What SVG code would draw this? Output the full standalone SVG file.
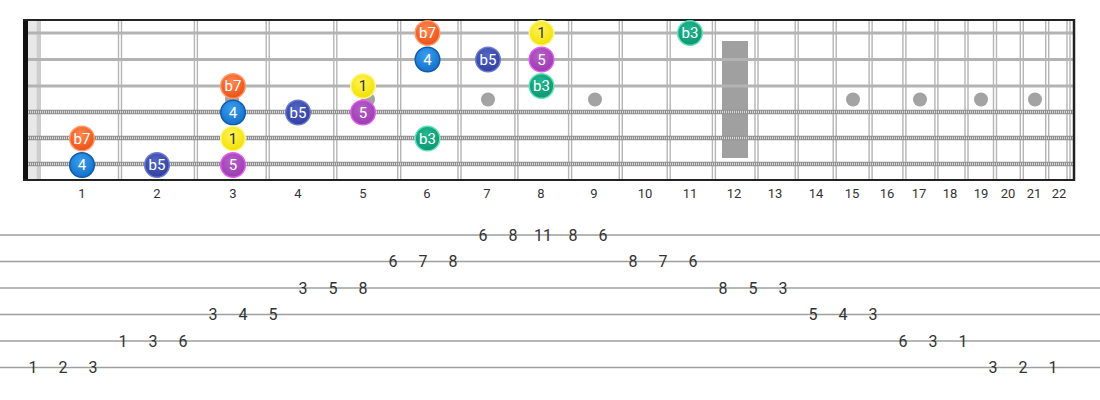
<svg xmlns="http://www.w3.org/2000/svg" width="1100" height="400" viewBox="0 0 1100 400">
<defs>
<radialGradient id="gO" cx="45%" cy="35%" r="65%"><stop offset="0" stop-color="#ff8a50"/><stop offset="1" stop-color="#ea4f17"/></radialGradient>
<radialGradient id="gB" cx="45%" cy="35%" r="65%"><stop offset="0" stop-color="#3aa0f0"/><stop offset="1" stop-color="#1470c8"/></radialGradient>
<radialGradient id="gI" cx="45%" cy="35%" r="65%"><stop offset="0" stop-color="#5567c4"/><stop offset="1" stop-color="#2f3fa2"/></radialGradient>
<radialGradient id="gY" cx="45%" cy="35%" r="65%"><stop offset="0" stop-color="#fff35a"/><stop offset="1" stop-color="#f2e000"/></radialGradient>
<radialGradient id="gP" cx="45%" cy="35%" r="65%"><stop offset="0" stop-color="#b860c8"/><stop offset="1" stop-color="#9a3cb0"/></radialGradient>
<radialGradient id="gG" cx="45%" cy="35%" r="65%"><stop offset="0" stop-color="#22b892"/><stop offset="1" stop-color="#0c9670"/></radialGradient>
</defs>
<style>
.fret{stroke:#b5b5b5;stroke-width:1.4;fill:none}
.plain{stroke:#b3b3b3;stroke-width:3}
.wound{stroke:#8e8e8e;stroke-width:4.5}
.woundx{stroke:#f2f2f2;stroke-width:2.5;stroke-dasharray:1 1;opacity:.75}
.dot{fill:#a3a3a3}
.note circle{stroke-width:1.5}
.note text{font-family:Roboto,"Liberation Sans",sans-serif;font-size:15px;fill:#fff;text-anchor:middle}
.o circle{fill:url(#gO);stroke:#ff9a6a}
.b circle{fill:url(#gB);stroke:#0e5cae}
.i circle{fill:url(#gI);stroke:#6a7bd0}
.y circle{fill:url(#gY);stroke:#fff69a}
.y text{fill:#333}
.p circle{fill:url(#gP);stroke:#e35cf2}
.g circle{fill:url(#gG);stroke:#5fe2b8}
.fn{font-family:Roboto,"Liberation Sans",sans-serif;font-size:13px;fill:#333;text-anchor:middle}
.tl{stroke:#9e9e9e;stroke-width:1.5}
.tn{font-family:Roboto,"Liberation Sans",sans-serif;font-size:16px;fill:#333;text-anchor:middle}
</style>
<rect width="1100" height="400" fill="#fff"/>
<g id="fretboard">
<rect x="28" y="20" width="8.5" height="160" fill="#e8e8e8"/>
<rect x="36.5" y="20" width="4.5" height="160" fill="#cdcdcd"/>
<path class="fret" d="M118.5 20V180M121.5 20V180M194.4 20V180M197.4 20V180M266.2 20V180M269.2 20V180M333.8 20V180M336.8 20V180M397.7 20V180M400.7 20V180M458 20V180M461 20V180M514.9 20V180M517.9 20V180M568.6 20V180M571.6 20V180M619.3 20V180M622.3 20V180M667.2 20V180M670.2 20V180M712.4 20V180M715.4 20V180M755 20V180M758 20V180M795.2 20V180M798.2 20V180M833.2 20V180M836.2 20V180M869.1 20V180M872.1 20V180M902.9 20V180M905.9 20V180M934.9 20V180M937.9 20V180M965 20V180M968 20V180M993.5 20V180M996.5 20V180M1020.3 20V180M1023.3 20V180M1045.7 20V180M1048.7 20V180M1067 20V180M1070 20V180"/>
<g id="inlays">
<circle class="dot" cx="232" cy="99.5" r="7"/>
<circle class="dot" cx="368" cy="99.5" r="7"/>
<circle class="dot" cx="488" cy="99.5" r="7"/>
<circle class="dot" cx="595" cy="99.5" r="7"/>
<rect x="722" y="41" width="26" height="117" fill="#a0a0a0"/>
<circle class="dot" cx="853" cy="99.5" r="7"/>
<circle class="dot" cx="920" cy="99.5" r="7"/>
<circle class="dot" cx="981" cy="99.5" r="7"/>
<circle class="dot" cx="1035" cy="99.5" r="7"/>
</g>
<g id="strings">
<line class="plain" x1="23" y1="33" x2="1073" y2="33"/>
<line class="plain" x1="23" y1="59.5" x2="1073" y2="59.5"/>
<line class="plain" x1="23" y1="86" x2="1073" y2="86"/>
<line class="wound" x1="28" y1="112" x2="1073" y2="112"/>
<line class="woundx" x1="28" y1="112" x2="1073" y2="112"/>
<line class="wound" x1="28" y1="138" x2="1073" y2="138"/>
<line class="woundx" x1="28" y1="138" x2="1073" y2="138"/>
<line class="wound" x1="28" y1="164" x2="1073" y2="164"/>
<line class="woundx" x1="28" y1="164" x2="1073" y2="164"/>
</g>
<rect x="23" y="20" width="5" height="160" fill="#111"/>
<line x1="23" y1="20" x2="1075" y2="20" stroke="#222" stroke-width="2"/>
<line x1="23" y1="180" x2="1075" y2="180" stroke="#222" stroke-width="2"/>
<line x1="1074" y1="19" x2="1074" y2="181" stroke="#222" stroke-width="2.5"/>
</g>
<g id="notes">
<g id="n1-6" class="note o"><circle cx="427.5" cy="33" r="12.3"/><text x="427.5" y="38.3">b7</text></g>
<g id="n1-8" class="note y"><circle cx="541.5" cy="33" r="12.3"/><text x="541.5" y="38.3">1</text></g>
<g id="n1-11" class="note g"><circle cx="690" cy="33" r="12.3"/><text x="690" y="38.3">b3</text></g>
<g id="n2-6" class="note b"><circle cx="427.5" cy="59.5" r="12.3"/><text x="427.5" y="64.8">4</text></g>
<g id="n2-7" class="note i"><circle cx="488" cy="59.5" r="12.3"/><text x="488" y="64.8">b5</text></g>
<g id="n2-8" class="note p"><circle cx="541.5" cy="59.5" r="12.3"/><text x="541.5" y="64.8">5</text></g>
<g id="n3-3" class="note o"><circle cx="233" cy="86" r="12.3"/><text x="233" y="91.3">b7</text></g>
<g id="n3-5" class="note y"><circle cx="363" cy="86" r="12.3"/><text x="363" y="91.3">1</text></g>
<g id="n3-8" class="note g"><circle cx="541.5" cy="86" r="12.3"/><text x="541.5" y="91.3">b3</text></g>
<g id="n4-3" class="note b"><circle cx="233" cy="112.5" r="12.3"/><text x="233" y="117.8">4</text></g>
<g id="n4-4" class="note i"><circle cx="298" cy="112.5" r="12.3"/><text x="298" y="117.8">b5</text></g>
<g id="n4-5" class="note p"><circle cx="363" cy="112.5" r="12.3"/><text x="363" y="117.8">5</text></g>
<g id="n5-1" class="note o"><circle cx="82" cy="138.5" r="12.3"/><text x="82" y="143.8">b7</text></g>
<g id="n5-3" class="note y"><circle cx="233" cy="138.5" r="12.3"/><text x="233" y="143.8">1</text></g>
<g id="n5-6" class="note g"><circle cx="427.5" cy="138.5" r="12.3"/><text x="427.5" y="143.8">b3</text></g>
<g id="n6-1" class="note b"><circle cx="82" cy="165" r="12.3"/><text x="82" y="170.3">4</text></g>
<g id="n6-2" class="note i"><circle cx="157" cy="165" r="12.3"/><text x="157" y="170.3">b5</text></g>
<g id="n6-3" class="note p"><circle cx="233" cy="165" r="12.3"/><text x="233" y="170.3">5</text></g>
</g>
<g id="fret-numbers">
<text class="fn" x="82" y="198">1</text>
<text class="fn" x="157" y="198">2</text>
<text class="fn" x="233" y="198">3</text>
<text class="fn" x="298" y="198">4</text>
<text class="fn" x="363" y="198">5</text>
<text class="fn" x="427" y="198">6</text>
<text class="fn" x="487" y="198">7</text>
<text class="fn" x="541" y="198">8</text>
<text class="fn" x="594" y="198">9</text>
<text class="fn" x="645" y="198">10</text>
<text class="fn" x="690" y="198">11</text>
<text class="fn" x="734" y="198">12</text>
<text class="fn" x="775" y="198">13</text>
<text class="fn" x="816" y="198">14</text>
<text class="fn" x="852" y="198">15</text>
<text class="fn" x="887" y="198">16</text>
<text class="fn" x="919" y="198">17</text>
<text class="fn" x="950" y="198">18</text>
<text class="fn" x="981" y="198">19</text>
<text class="fn" x="1008" y="198">20</text>
<text class="fn" x="1034" y="198">21</text>
<text class="fn" x="1059" y="198">22</text>
</g>
<g id="tab">
<line class="tl" x1="0" y1="235" x2="1100" y2="235"/>
<line class="tl" x1="0" y1="261.5" x2="1100" y2="261.5"/>
<line class="tl" x1="0" y1="288" x2="1100" y2="288"/>
<line class="tl" x1="0" y1="314.5" x2="1100" y2="314.5"/>
<line class="tl" x1="0" y1="341" x2="1100" y2="341"/>
<line class="tl" x1="0" y1="367.5" x2="1100" y2="367.5"/>
<text class="tn" x="483" y="240.8">6</text><text class="tn" x="513" y="240.8">8</text><text class="tn" x="543" y="240.8">11</text><text class="tn" x="573" y="240.8">8</text><text class="tn" x="603" y="240.8">6</text>
<text class="tn" x="393" y="267.3">6</text><text class="tn" x="423" y="267.3">7</text><text class="tn" x="453" y="267.3">8</text><text class="tn" x="633" y="267.3">8</text><text class="tn" x="663" y="267.3">7</text><text class="tn" x="693" y="267.3">6</text>
<text class="tn" x="303" y="293.8">3</text><text class="tn" x="333" y="293.8">5</text><text class="tn" x="363" y="293.8">8</text><text class="tn" x="723" y="293.8">8</text><text class="tn" x="753" y="293.8">5</text><text class="tn" x="783" y="293.8">3</text>
<text class="tn" x="213" y="320.3">3</text><text class="tn" x="243" y="320.3">4</text><text class="tn" x="273" y="320.3">5</text><text class="tn" x="813" y="320.3">5</text><text class="tn" x="843" y="320.3">4</text><text class="tn" x="873" y="320.3">3</text>
<text class="tn" x="123" y="346.8">1</text><text class="tn" x="153" y="346.8">3</text><text class="tn" x="183" y="346.8">6</text><text class="tn" x="903" y="346.8">6</text><text class="tn" x="933" y="346.8">3</text><text class="tn" x="963" y="346.8">1</text>
<text class="tn" x="33" y="373.3">1</text><text class="tn" x="63" y="373.3">2</text><text class="tn" x="93" y="373.3">3</text><text class="tn" x="993" y="373.3">3</text><text class="tn" x="1023" y="373.3">2</text><text class="tn" x="1053" y="373.3">1</text>
</g>
</svg>
